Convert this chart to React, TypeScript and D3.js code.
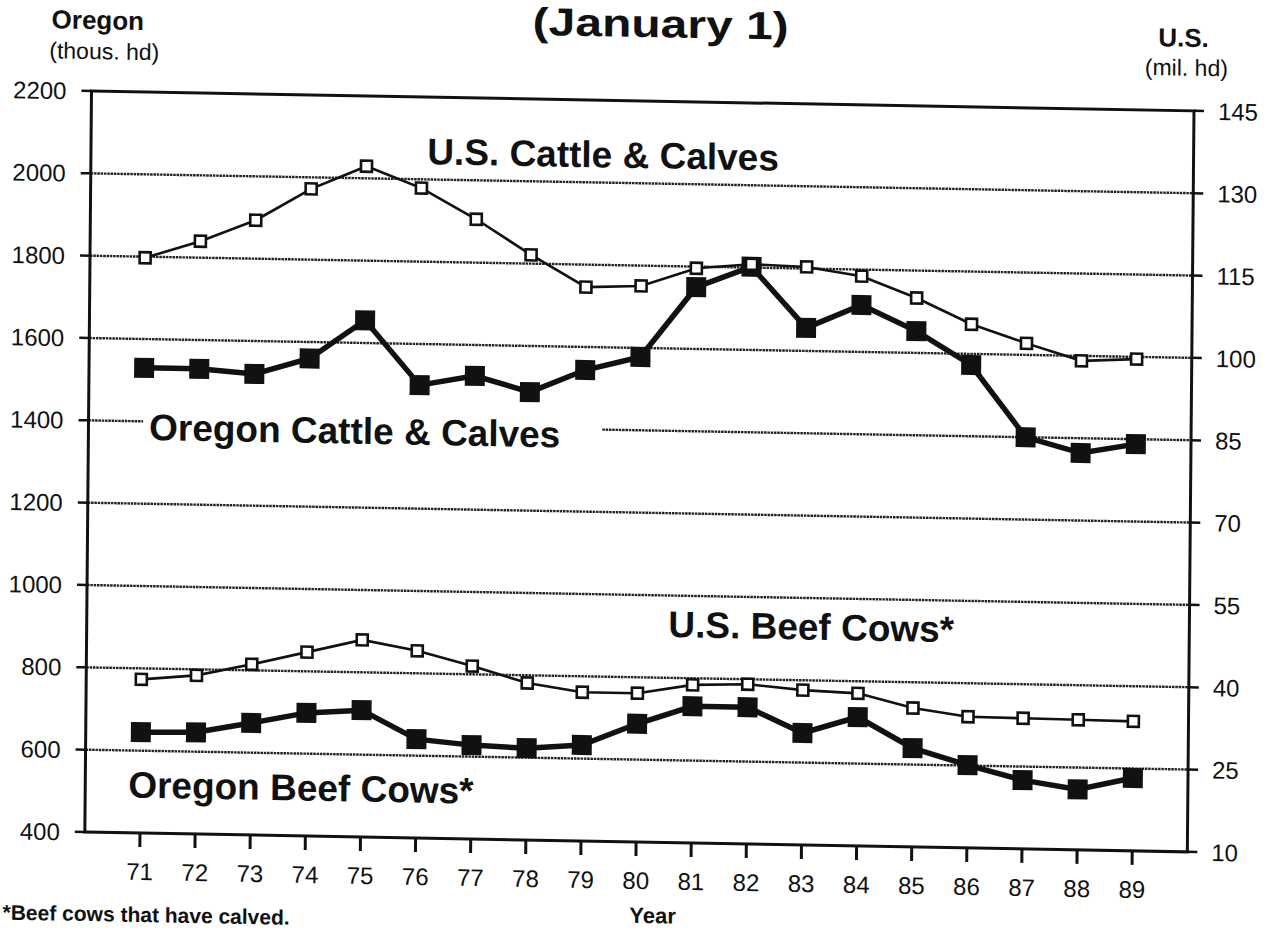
import { useEffect, useRef } from 'react'
import * as d3 from 'd3'

const W = 1273, H = 931
const LEFT = 91.5, RIGHT = 1194, TOP = 91, BOTTOM = 832
const FONT = '"Liberation Sans", Arial, Helvetica, sans-serif'
// the scanned page is a little skewed: rows fall ~1 deg to the right, columns lean left
const SKEW = [1, 0.018, -0.009, 1, 0.009 * TOP, -0.018 * 90]

const years = [71, 72, 73, 74, 75, 76, 77, 78, 79, 80, 81, 82, 83, 84, 85, 86, 87, 88, 89]
// U.S., million head (right axis)
const usCattle = [114.8, 118.0, 122.0, 127.9, 132.2, 128.4, 122.9, 116.6, 110.9, 111.3, 114.7, 115.6, 115.3, 113.8, 110.0, 105.4, 102.1, 99.1, 99.6]
const usBeefCows = [38.0, 38.9, 41.1, 43.5, 45.9, 44.1, 41.5, 38.6, 37.1, 37.1, 38.8, 39.1, 38.2, 37.8, 35.3, 33.9, 33.8, 33.7, 33.6]
// Oregon, thousand head (left axis)
const orCattle = [1530, 1530, 1520, 1560, 1655, 1500, 1525, 1488, 1544, 1578, 1750, 1802, 1656, 1714, 1653, 1573, 1400, 1364, 1388]
const orBeefCows = [645, 647, 672, 699, 708, 640, 628, 623, 633, 687, 732, 732, 672, 713, 640, 601, 567, 547, 577]

const leftTicks = [400, 600, 800, 1000, 1200, 1400, 1600, 1800, 2000, 2200]
const rightTicks = [10, 25, 40, 55, 70, 85, 100, 115, 130, 145]
const gridVals = [600, 800, 1000, 1200, 1400, 1600, 1800, 2000]

export default function App() {
  const ref = useRef<SVGSVGElement>(null)

  useEffect(() => {
    if (!ref.current) return
    const svg = d3.select(ref.current)
    svg.selectAll('*').remove()

    const x = d3.scaleLinear().domain([70, 90]).range([LEFT, RIGHT])
    const yL = d3.scaleLinear().domain([400, 2200]).range([BOTTOM, TOP])
    const yR = d3.scaleLinear().domain([10, 145]).range([BOTTOM, TOP])

    svg.append('rect').attr('width', W).attr('height', H).attr('fill', '#fff')
    const g = svg.append('g')
      .attr('transform', `matrix(${SKEW.join(',')})`)
      .attr('font-family', FONT).attr('fill', '#111')

    const gridG = g.append('g')
    const axisG = g.append('g')
    const seriesG = g.append('g')
    const labelG = g.append('g')

    const label = (txt: string, xv: number, yv: number, size: number, weight = '700', anchor = 'start') =>
      labelG.append('text')
        .attr('x', xv).attr('y', yv)
        .attr('text-anchor', anchor)
        .attr('font-size', size).attr('font-weight', weight)
        .attr('fill', '#111')
        .text(txt)

    // Series labels, placed in data units
    label('U.S. Cattle & Calves', x(76.1), yL(2037), 37)
    const orLab = label('Oregon Cattle & Calves', x(71.1), yL(1355), 37)
    label('U.S. Beef Cows*', x(80.55), yL(899), 37)
    label('Oregon Beef Cows*', x(70.78), yL(486), 37)

    // Gridlines (dotted, halftone look); the 1400 line breaks for its label
    const bb = (orLab.node() as SVGTextElement).getBBox()
    const gridLine = (v: number, x0: number, x1: number) =>
      gridG.append('line')
        .attr('x1', x0).attr('x2', x1)
        .attr('y1', yL(v)).attr('y2', yL(v))
        .attr('stroke', '#222').attr('stroke-width', 2.4)
        .attr('stroke-dasharray', '2.5 0.8')
    gridVals.forEach(v => {
      if (v === 1400) {
        gridLine(v, LEFT, bb.x - 6)
        gridLine(v, bb.x + bb.width + 42, RIGHT)
      } else {
        gridLine(v, LEFT, RIGHT)
      }
    })

    // Frame
    axisG.append('rect')
      .attr('x', LEFT).attr('y', TOP)
      .attr('width', RIGHT - LEFT).attr('height', BOTTOM - TOP)
      .attr('fill', 'none').attr('stroke', '#111').attr('stroke-width', 3)

    // Left axis
    leftTicks.forEach(v => {
      axisG.append('line')
        .attr('x1', LEFT - 10).attr('x2', LEFT)
        .attr('y1', yL(v)).attr('y2', yL(v))
        .attr('stroke', '#111').attr('stroke-width', 2.5)
      axisG.append('text')
        .attr('x', LEFT - 25).attr('y', yL(v)).attr('dy', '0.36em')
        .attr('text-anchor', 'end').attr('font-size', 24)
        .text(v)
    })

    // Right axis
    rightTicks.forEach(v => {
      axisG.append('line')
        .attr('x1', RIGHT).attr('x2', RIGHT + 10)
        .attr('y1', yR(v)).attr('y2', yR(v))
        .attr('stroke', '#111').attr('stroke-width', 2.5)
      axisG.append('text')
        .attr('x', RIGHT + 24).attr('y', yR(v)).attr('dy', '0.36em')
        .attr('text-anchor', 'start').attr('font-size', 24)
        .text(v)
    })

    // Bottom axis
    years.forEach(yr => {
      axisG.append('line')
        .attr('x1', x(yr)).attr('x2', x(yr))
        .attr('y1', BOTTOM).attr('y2', BOTTOM + 14)
        .attr('stroke', '#111').attr('stroke-width', 3)
      axisG.append('text')
        .attr('x', x(yr)).attr('y', BOTTOM + 47)
        .attr('text-anchor', 'middle').attr('font-size', 24)
        .text(yr)
    })
    axisG.append('text')
      .attr('x', 660).attr('y', BOTTOM + 81)
      .attr('text-anchor', 'middle').attr('font-size', 22).attr('font-weight', '700')
      .text('Year')

    // Axis titles and page title
    axisG.append('text').attr('x', 51).attr('y', 29)
      .attr('font-size', 26).attr('font-weight', '700').text('Oregon')
    axisG.append('text').attr('x', 49).attr('y', 59)
      .attr('font-size', 23).text('(thous. hd)')
    axisG.append('text').attr('x', 1183).attr('y', 27).attr('text-anchor', 'middle')
      .attr('font-size', 26).attr('font-weight', '700').text('U.S.')
    axisG.append('text').attr('x', 1186).attr('y', 56).attr('text-anchor', 'middle')
      .attr('font-size', 23).text('(mil. hd)')
    axisG.append('text').attr('x', 660).attr('y', 27).attr('text-anchor', 'middle')
      .attr('font-size', 39).attr('font-weight', '700')
      .attr('textLength', 256).attr('lengthAdjust', 'spacingAndGlyphs')
      .text('(January 1)')
    axisG.append('text').attr('x', 10).attr('y', 921)
      .attr('font-size', 21).attr('font-weight', '700')
      .text('*Beef cows that have calved.')

    // Series
    const drawSeries = (vals: number[], y: d3.ScaleLinear<number, number>, heavy: boolean) => {
      const line = d3.line<number>().x((_, i) => x(years[i])).y(v => y(v))
      seriesG.append('path')
        .attr('d', line(vals))
        .attr('fill', 'none').attr('stroke', '#111')
        .attr('stroke-width', heavy ? 5.5 : 2.6)
        .attr('stroke-linejoin', 'miter')
      const s = heavy ? 20 : 11
      seriesG.append('g').selectAll('rect').data(vals).join('rect')
        .attr('x', (_, i) => x(years[i]) - s / 2)
        .attr('y', v => y(v) - s / 2)
        .attr('width', s).attr('height', s)
        .attr('fill', heavy ? '#111' : '#fff')
        .attr('stroke', '#111').attr('stroke-width', heavy ? 0 : 2.6)
    }
    drawSeries(orCattle, yL, true)
    drawSeries(orBeefCows, yL, true)
    drawSeries(usCattle, yR, false)
    drawSeries(usBeefCows, yR, false)
  }, [])

  return (
    <svg
      ref={ref}
      width={W}
      height={H}
      style={{ position: 'absolute', left: 0, top: 0, display: 'block' }}
    />
  )
}
